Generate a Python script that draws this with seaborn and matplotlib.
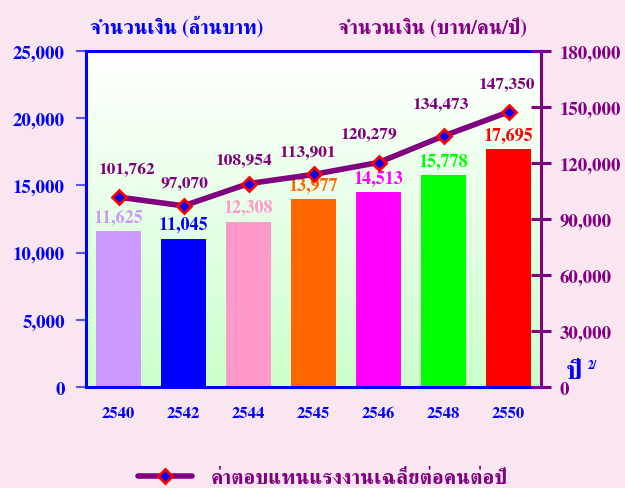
import matplotlib
matplotlib.use("Agg")
import matplotlib.pyplot as plt
from matplotlib.colors import LinearSegmentedColormap
from matplotlib.lines import Line2D
from matplotlib.ticker import FuncFormatter, MultipleLocator
import numpy as np
import seaborn as sns

# ---- data ----
years = ["2540", "2542", "2544", "2545", "2546", "2548", "2550"]
amount_million = [11625, 11045, 12308, 13977, 14513, 15778, 17695]
wage_per_person = [101762, 97070, 108954, 113901, 120279, 134473, 147350]
bar_colors = ["#CC99FF", "#0000FF", "#FF99CC", "#FF6600", "#FF00FF", "#00FF00", "#FF0000"]
left_title = "จำนวนเงิน (ล้านบาท)"
right_title = "จำนวนเงิน (บาท/คน/ปี)"
legend_label = "ค่าตอบแทนแรงงานเฉลี่ยต่อคนต่อปี"
year_label = "ปี"
note_mark = "2/"

# label offsets (points) for the line labels
line_label_offsets = [(6, 20), (1, 17), (-3, 18), (-4, 17), (-7, 21), (-2, 24), (-1, 21)]

BLUE = "#0000FF"
PURPLE = "#800080"
BG = "#F9E6F1"

sns.set_theme(style="white")
plt.rcParams["font.family"] = ["FreeSerif", "Liberation Serif", "DejaVu Sans"]
plt.rcParams["font.weight"] = "bold"

fig = plt.figure(figsize=(6.25, 4.89), dpi=100, facecolor=BG)
ax = fig.add_axes([0.1376, 0.2065, 0.728, 0.6871])

# gradient background of plot area
grad_cmap = LinearSegmentedColormap.from_list("g", ["#FFFFFF", "#CCFFCC"])
ax.imshow(np.linspace(0, 1, 256).reshape(-1, 1), cmap=grad_cmap, aspect="auto",
          extent=[-0.5, len(years) - 0.5, 0, 25000], origin="upper", zorder=0)

sns.barplot(x=years, y=amount_million, hue=years, palette=bar_colors, legend=False,
            width=0.68, saturation=1, ax=ax, zorder=2, edgecolor="none", linewidth=0)
ax.set_xlim(-0.5, len(years) - 0.5)
ax.set_ylim(0, 25000)
ax.yaxis.set_major_locator(MultipleLocator(5000))
fmt = FuncFormatter(lambda v, p: f"{v:,.0f}")
ax.yaxis.set_major_formatter(fmt)

for bar, val, col in zip(ax.patches, amount_million, bar_colors):
    ax.annotate(f"{val:,}", (bar.get_x() + bar.get_width() / 2, bar.get_height()),
                xytext=(0, 4), textcoords="offset points", ha="center", va="bottom",
                color=col, fontsize=13, fontweight="bold", zorder=3)

ax2 = ax.twinx()
sns.pointplot(x=years, y=wage_per_person, ax=ax2, color=PURPLE, errorbar=None,
              marker="D", linewidth=4, markersize=7, markerfacecolor=BLUE,
              markeredgecolor="#FF0000", markeredgewidth=2)
ax2.set_ylim(0, 180000)
ax2.set_xlim(-0.5, len(years) - 0.5)
ax2.yaxis.set_major_locator(MultipleLocator(30000))
ax2.yaxis.set_major_formatter(fmt)

for i, (val, off) in enumerate(zip(wage_per_person, line_label_offsets)):
    ax2.annotate(f"{val:,}", (i, val), xytext=off, textcoords="offset points",
                 ha="center", va="center", color=PURPLE, fontsize=12.5, fontweight="bold")

# spines
for a in (ax, ax2):
    for s in a.spines.values():
        s.set_visible(False)
for name in ("left", "top", "bottom"):
    ax.spines[name].set_visible(True)
    ax.spines[name].set_color(BLUE)
    ax.spines[name].set_linewidth(2.2)
ax2.spines["right"].set_visible(True)
ax2.spines["right"].set_color(PURPLE)
ax2.spines["right"].set_linewidth(2.2)

ax.tick_params(axis="y", left=True, direction="out", length=7, width=1.5, color="#5555FF",
               labelcolor=BLUE, labelsize=13.5, pad=8)
ax.tick_params(axis="x", bottom=False, labelcolor=BLUE, labelsize=12, pad=8)
ax2.tick_params(axis="y", right=True, direction="inout", length=15, width=2.2, color=PURPLE,
                labelcolor=PURPLE, labelsize=13.5, pad=6)
ax2.tick_params(axis="x", bottom=False, top=False)
for lab in ax.get_xticklabels() + ax.get_yticklabels() + ax2.get_yticklabels():
    lab.set_fontweight("bold")
ax.set_xlabel("")
ax.set_ylabel("")
ax2.set_ylabel("")
ax.grid(False)
ax2.grid(False)

# titles
fig.text(177 / 625, 1 - 27 / 489, left_title, ha="center", va="center", color=BLUE,
         fontsize=14.5, fontweight="bold")
fig.text(432 / 625, 1 - 27 / 489, right_title, ha="center", va="center", color=PURPLE,
         fontsize=14.5, fontweight="bold")
fig.text(574 / 625, 1 - 373 / 489, year_label, ha="center", va="center", color=BLUE,
         fontsize=19, fontweight="bold")
fig.text(592 / 625, 1 - 366 / 489, note_mark, ha="center", va="center", color=BLUE,
         fontsize=8.5, fontweight="bold")

# legend
handle = Line2D([], [], color=PURPLE, linewidth=4, marker="D", markersize=7,
                markerfacecolor=BLUE, markeredgecolor="#FF0000", markeredgewidth=2)
fig.legend(handles=[handle], labels=[legend_label], loc="center left",
           bbox_to_anchor=(138 / 625, 1 - 479 / 489), frameon=False,
           handlelength=2.6, handletextpad=0.9, borderpad=0, borderaxespad=0,
           labelcolor=PURPLE, prop={"weight": "bold", "size": 15})

fig.savefig("out.png", dpi=100, facecolor=BG)
